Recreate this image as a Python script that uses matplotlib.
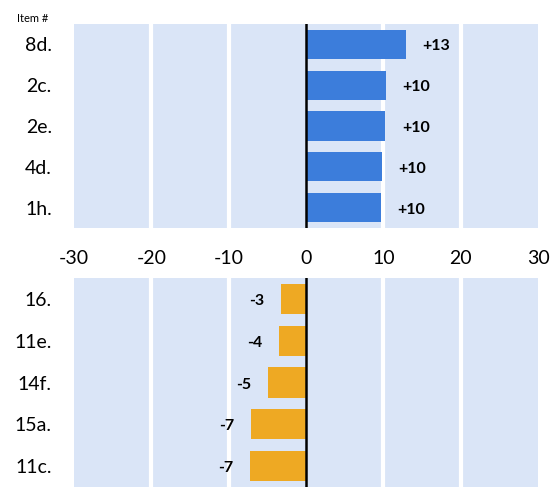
import matplotlib
matplotlib.use("Agg")
import matplotlib.pyplot as plt

plt.rcParams['font.family'] = ['Lato', 'DejaVu Sans']

top_items = ["8d.", "2c.", "2e.", "4d.", "1h."]
top_values = [12.9, 10.3, 10.25, 9.8, 9.65]
top_labels = ["+13", "+10", "+10", "+10", "+10"]

bot_items = ["16.", "11e.", "14f.", "15a.", "11c."]
bot_values = [-3.2, -3.5, -4.9, -7.1, -7.25]
bot_labels = ["-3", "-4", "-5", "-7", "-7"]

x_ticks = [-30, -20, -10, 0, 10, 20, 30]

BG = "#DAE5F7"
BLUE = "#3C7DDB"
ORANGE = "#EEA923"

W, H = 553, 487
fig = plt.figure(figsize=(W / 100, H / 100), dpi=100)

ax1 = fig.add_axes([74 / W, 1 - 228 / H, 464 / W, 204 / H])
ax2 = fig.add_axes([74 / W, 0, 464 / W, 209 / H])


def style(ax, items, values, labels, color, show_x):
    ax.set_facecolor(BG)
    for g in [-20, -10, 10, 20]:
        ax.axvline(g, color="white", lw=3, zorder=1)
    ypos = list(range(len(items)))
    ax.barh(ypos, values, height=0.72, color=color, zorder=2)
    ax.axvline(0, color="black", lw=1.8, zorder=3)
    for y, v, t in zip(ypos, values, labels):
        off = 12 if v > 0 else -12
        ax.annotate(t, xy=(v, y), xytext=(off, -1.5), textcoords="offset points",
                    ha="left" if v > 0 else "right", va="center",
                    fontsize=11.5, fontweight="bold", color="black")
    ax.set_xlim(-30, 30)
    ax.set_ylim(len(items) - 0.5, -0.5)
    ax.set_yticks(ypos)
    ax.set_yticklabels(items, fontsize=14)
    ax.set_xticks(x_ticks)
    if show_x:
        ax.set_xticklabels([str(t) for t in x_ticks], fontsize=14)
    else:
        ax.set_xticklabels([])
    ax.tick_params(length=0, pad=16, axis="y")
    ax.tick_params(length=0, pad=16, axis="x")
    for s in ax.spines.values():
        s.set_visible(False)


style(ax1, top_items, top_values, top_labels, BLUE, True)
style(ax2, bot_items, bot_values, bot_labels, ORANGE, False)

fig.text(33 / W, 1 - 19 / H, "Item #", fontsize=8, ha="center", va="center")

fig.savefig("out.png", dpi=100)
